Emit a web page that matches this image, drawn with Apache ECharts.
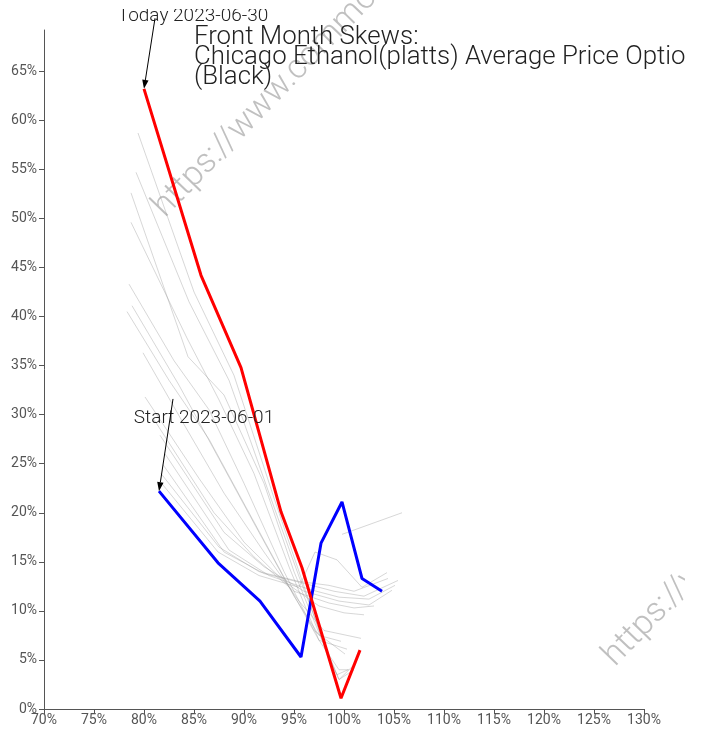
<!DOCTYPE html>
<html>
<head>
<meta charset="utf-8">
<title>Front Month Skews</title>
<script src="https://cdn.jsdelivr.net/npm/echarts@6/dist/echarts.min.js"></script>
<style>
  html, body { margin: 0; padding: 0; background: #fff; }
  #chart { width: 705px; height: 733px; }
</style>
</head>
<body>
<div id="chart"></div>
<script>
// strike as % of underlying -> implied vol %
var startDate = '2023-06-01';
var todayDate = '2023-06-30';

var startStrikes = [81.5, 87.4, 91.6, 95.7, 97.7, 99.8, 101.8, 103.8];
var startVols    = [22.2, 14.9, 11.0, 5.3, 16.9, 21.1, 13.3, 12.0];

var todayStrikes = [80.0, 85.7, 89.7, 93.7, 95.8, 99.7, 101.6];
var todayVols    = [63.2, 44.2, 34.8, 20.1, 14.4, 1.1, 6.0];

// the days in between, oldest first: [strike, vol] pairs
var greyCurves = [
  [[81.6,23.2],[87.4,16.0],[91.5,13.6],[95.5,12.4],[97.1,16.0],[99.3,15.2],[101.8,12.4],[104.3,13.9]],
  [[99.8,17.8],[105.8,20.0]],
  [[81.7,24.0],[87.5,16.5],[91.5,14.0],[95.5,13.0],[98.5,12.6],[101.0,12.0],[104.4,13.3]],
  [[81.9,24.9],[88.0,16.0],[92.0,13.8],[96.0,12.8],[99.0,12.0],[102.0,11.5],[105.4,13.1]],
  [[82.1,26.0],[88.5,16.2],[92.5,13.6],[96.5,12.2],[99.5,11.4],[102.5,11.2],[105.1,12.6]],
  [[81.6,27.9],[88.0,18.0],[92.0,14.5],[96.0,12.0],[99.5,11.0],[102.5,10.6],[104.8,12.1]],
  [[81.0,29.5],[87.0,20.0],[91.0,15.5],[95.0,12.0],[98.5,10.8],[101.0,10.3],[103.0,10.5]],
  [[80.1,31.8],[85.5,23.5],[90.0,17.0],[94.0,13.0],[97.5,10.5],[100.0,9.8],[102.0,9.6]],
  [[79.9,36.3],[84.0,29.0],[88.0,22.0],[92.0,16.0],[95.5,11.0],[98.0,8.0],[101.7,7.2]],
  [[78.8,41.1],[83.5,33.0],[87.5,25.5],[91.5,18.0],[95.0,11.5],[97.5,7.5],[99.7,6.9]],
  [[78.3,40.5],[82.5,33.5],[86.5,27.5],[90.5,20.0],[94.5,12.5],[97.5,7.0],[100.3,6.1]],
  [[78.5,43.3],[83.0,35.5],[86.5,30.5],[90.0,23.0],[94.0,14.0],[97.0,8.0],[100.1,5.6]],
  [[78.7,49.6],[84.3,37.8],[87.5,31.5],[91.0,24.0],[94.5,14.5],[97.5,7.0],[99.5,4.0],[100.5,4.0]],
  [[78.7,52.6],[84.4,35.9],[88.0,32.0],[92.0,23.0],[95.0,14.0],[98.0,6.5],[99.5,3.0],[101.0,4.0]],
  [[79.2,54.7],[84.5,41.5],[88.5,33.5],[92.5,22.0],[95.5,13.5],[98.5,5.5],[99.5,3.0],[101.0,4.5]],
  [[79.4,58.7],[85.0,42.5],[89.0,34.0],[93.0,21.5],[95.5,14.0],[98.5,5.0],[99.3,3.5],[100.4,4.0]]
];

var xTicks = [70, 130, 5];
var yTicks = [0, 69.2, 5];

// where the annotation arrows start (data coords)
var todayArrowFrom = [81.1, 70.4];
var startArrowFrom = [82.9, 31.6];

var watermark = 'https://www.commodity3.com';

function pairs(xs, ys) {
  return xs.map(function (x, i) { return [x, ys[i]]; });
}

var chart = echarts.init(document.getElementById('chart'), null, { renderer: 'canvas' });

var series = greyCurves.map(function (c) {
  return {
    type: 'line',
    data: c,
    showSymbol: false,
    silent: true,
    z: 1,
    lineStyle: { color: 'rgba(150,150,150,0.38)', width: 1 }
  };
});

series.push({
  type: 'line',
  name: startDate,
  data: pairs(startStrikes, startVols),
  showSymbol: false,
  z: 3,
  lineStyle: { color: '#0000ff', width: 3 }
});

series.push({
  type: 'line',
  name: todayDate,
  data: pairs(todayStrikes, todayVols),
  showSymbol: false,
  z: 4,
  lineStyle: { color: '#ff0000', width: 3 }
});

var wmStyle = {
  text: watermark,
  font: '300 34px Roboto',
  fill: 'rgba(185,185,185,0.9)',
  textAlign: 'left',
  textVerticalAlign: 'middle'
};

var option = {
  animation: false,
  backgroundColor: '#ffffff',
  title: {
    text: 'Front Month Skews:\nChicago Ethanol(platts) Average Price Option\n(Black)',
    left: 194,
    top: 28,
    padding: 0,
    textStyle: {
      fontFamily: 'Roboto',
      fontWeight: 300,
      fontSize: 25.8,
      lineHeight: 20,
      color: '#222'
    }
  },
  grid: { left: 44, right: 61, top: 30, bottom: 24, containLabel: false },
  xAxis: {
    type: 'value',
    min: xTicks[0],
    max: xTicks[1],
    interval: xTicks[2],
    splitLine: { show: false },
    axisLine: { lineStyle: { color: '#555' } },
    axisTick: { length: 5, lineStyle: { color: '#555' } },
    axisLabel: {
      formatter: '{value}%',
      color: '#555',
      fontFamily: 'Roboto',
      fontSize: 14,
      margin: 4
    }
  },
  yAxis: {
    type: 'value',
    min: yTicks[0],
    max: yTicks[1],
    interval: yTicks[2],
    splitLine: { show: false },
    axisLine: { show: true, lineStyle: { color: '#555' } },
    axisTick: { show: true, length: 5, lineStyle: { color: '#555' } },
    axisLabel: {
      formatter: '{value}%',
      color: '#555',
      fontFamily: 'Roboto',
      fontSize: 14,
      margin: 7,
      showMaxLabel: false
    }
  },
  series: series
};

chart.setOption(option);

// arrows + labels, placed through the chart's own coordinate conversion
function arrow(id, from, to) {
  var p0 = chart.convertToPixel({ gridIndex: 0 }, from);
  var p1 = chart.convertToPixel({ gridIndex: 0 }, to);
  var dx = p1[0] - p0[0], dy = p1[1] - p0[1];
  var len = Math.sqrt(dx * dx + dy * dy);
  var ux = dx / len, uy = dy / len;
  var headL = 9, headW = 3.2;
  var bx = p1[0] - ux * headL, by = p1[1] - uy * headL;
  return [
    {
      type: 'line', id: id + '-shaft', silent: true, z: 20,
      shape: { x1: p0[0], y1: p0[1], x2: bx, y2: by },
      style: { stroke: '#000', lineWidth: 1 }
    },
    {
      type: 'polygon', id: id + '-head', silent: true, z: 20,
      shape: { points: [[p1[0], p1[1]], [bx - uy * headW, by + ux * headW], [bx + uy * headW, by - ux * headW]] },
      style: { fill: '#000' }
    }
  ];
}

var graphics = [
  { type: 'text', id: 'wm1', x: 159, y: 212, rotation: 0.80, silent: true, z: 0, style: wmStyle },
  { type: 'text', id: 'wm2', x: 609, y: 661, rotation: 0.80, silent: true, z: 0, style: wmStyle },
  {
    type: 'text', id: 'todayLbl', x: 193, y: 16, silent: true, z: 10,
    style: {
      text: 'Today ' + todayDate, font: '300 19px Roboto', fill: '#222',
      textAlign: 'center', textVerticalAlign: 'middle'
    }
  },
  // the reference crops the top of this label and everything right of x=685
  { type: 'rect', id: 'todayCrop', silent: true, z: 11, shape: { x: 110, y: 0, width: 165, height: 9 }, style: { fill: '#fff' } },
  { type: 'rect', id: 'rightCrop', silent: true, z: 50, shape: { x: 685, y: 0, width: 20, height: 700 }, style: { fill: '#fff' } },
  {
    type: 'text', id: 'startLbl', x: 204, y: 418, silent: true, z: 10,
    style: {
      text: 'Start ' + startDate, font: '300 19px Roboto', fill: '#222',
      textAlign: 'center', textVerticalAlign: 'middle'
    }
  }
]
  .concat(arrow('todayArrow', todayArrowFrom, [todayStrikes[0], todayVols[0]]))
  .concat(arrow('startArrow', startArrowFrom, [startStrikes[0], startVols[0]]));

chart.setOption({ graphic: graphics });
</script>
</body>
</html>
